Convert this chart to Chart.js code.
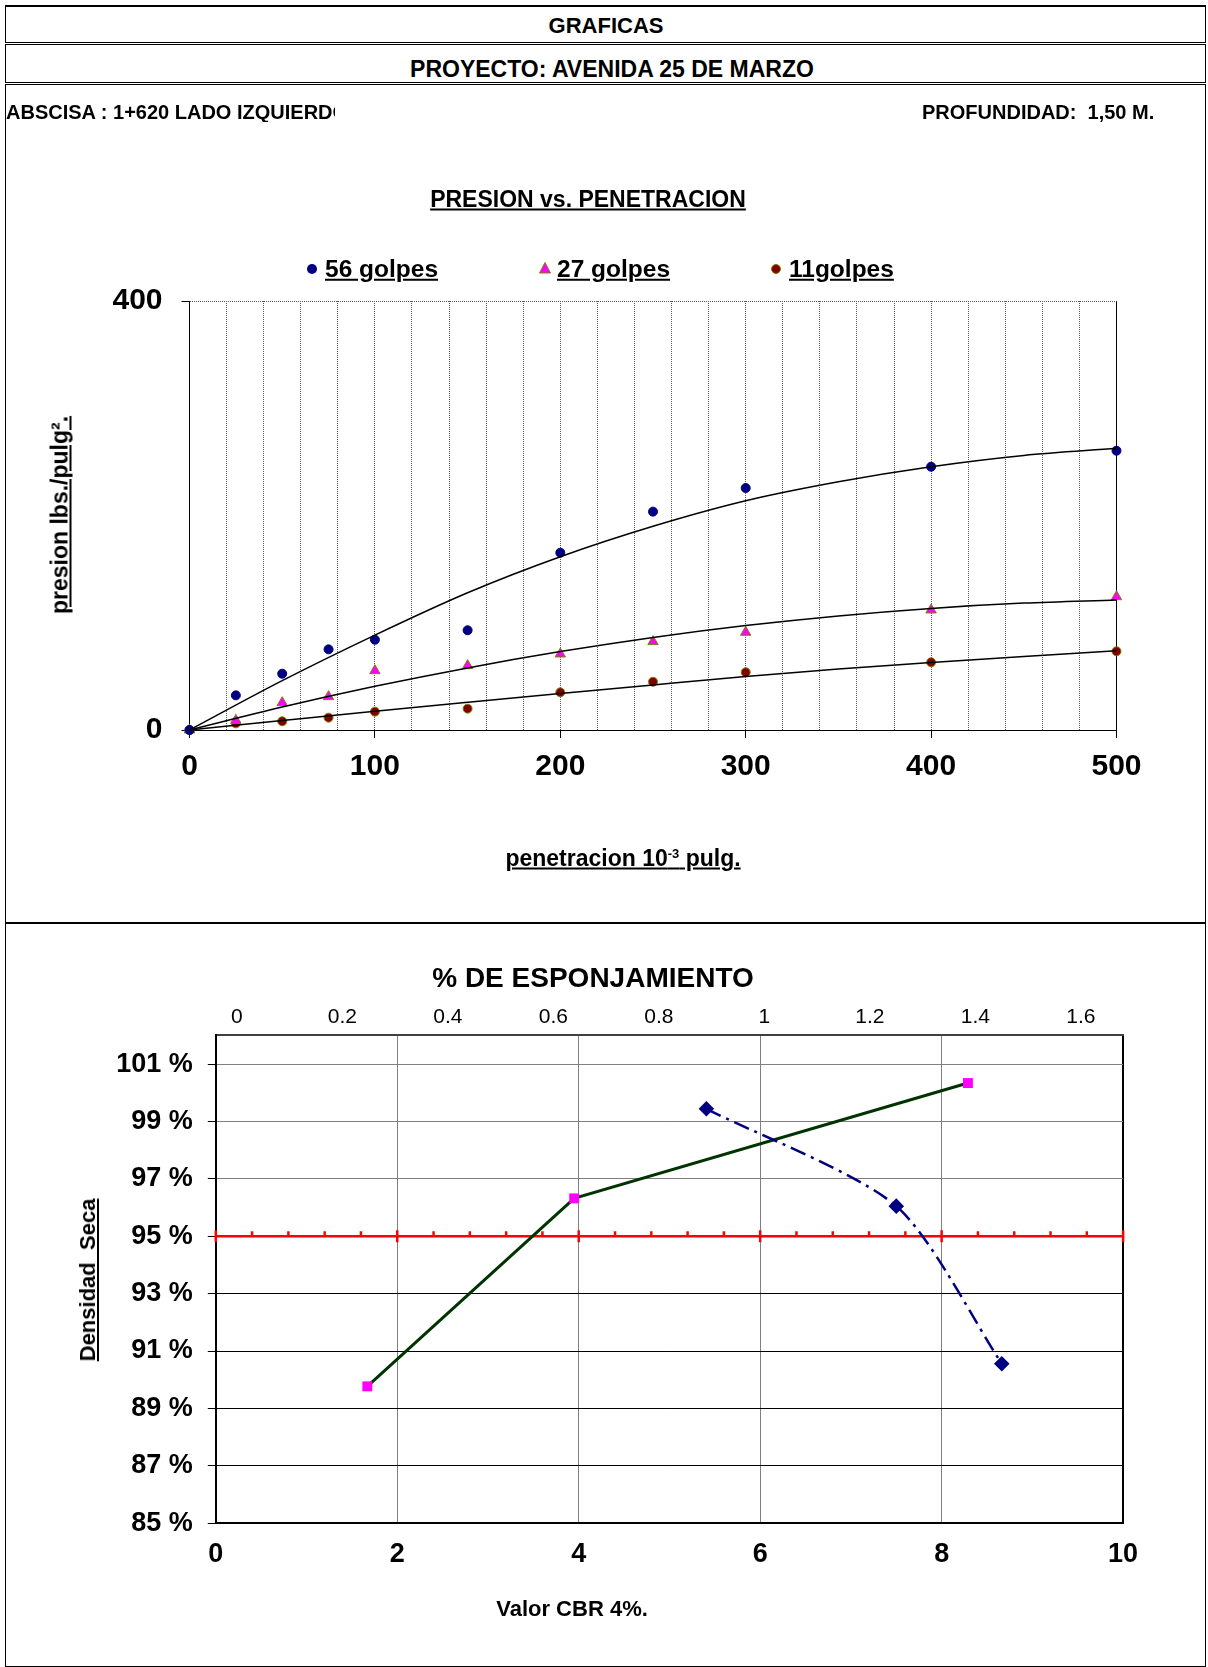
<!DOCTYPE html>
<html>
<head>
<meta charset="utf-8">
<title>Graficas CBR</title>
<script src="https://cdn.jsdelivr.net/npm/chart.js@4.4.0/dist/chart.umd.min.js"></script>
<style>
  body { margin: 0; background: #fff; font-family: "Liberation Sans", Arial, sans-serif; }
  #page { position: relative; width: 1208px; height: 1667px; overflow: hidden; background: #fff; }
  .box { position: absolute; border: 1px solid #000; box-sizing: border-box; }
  .txt { position: absolute; transform: translate(-50%, -50%); white-space: pre; font-weight: bold; line-height: 1; color: #000; }
  .izq { transform: translate(0, -50%); }
  .u { text-decoration: underline; }
  .rot { transform: translate(-50%, -50%) rotate(-90deg); }
  .mark { position: absolute; transform: translate(-50%, -50%); }
  canvas { position: absolute; left: 0; }
  sup { font-size: 13px; vertical-align: 8px; line-height: 0; }
</style>
</head>
<body>
<div id="page">
  <div class="box" style="left:5px;top:5px;width:1201px;height:38px;border-top-width:2px"></div>
  <div class="box" style="left:5px;top:44px;width:1201px;height:39px"></div>
  <div class="box" style="left:5px;top:84px;width:1201px;height:1583px"></div>
  <div style="position:absolute;left:5px;top:922px;width:1201px;height:2px;background:#000"></div>

  <canvas id="presion" width="1208" height="838" style="top:84px"></canvas>
  <canvas id="densidad" width="1208" height="741" style="top:924px"></canvas>

  <div class="txt" style="left:606px;top:26px;font-size:22px">GRAFICAS</div>
  <div class="txt" style="left:612px;top:69px;font-size:23px">PROYECTO: AVENIDA 25 DE MARZO</div>
  <div class="txt izq" style="left:6px;top:112px;font-size:20px;width:329px;overflow:hidden">ABSCISA : 1+620 LADO IZQUIERDO</div>
  <div class="txt izq" style="left:922px;top:112px;font-size:20px">PROFUNDIDAD:  1,50 M.</div>

  <div class="txt u" style="left:588px;top:199px;font-size:23px">PRESION vs. PENETRACION</div>

  <svg class="mark" style="left:312px;top:269px" width="12" height="12"><circle cx="6" cy="6" r="5" fill="#000080"/></svg>
  <div class="txt izq u" style="left:325px;top:269px;font-size:24.5px">56 golpes</div>
  <svg class="mark" style="left:545px;top:268px" width="14" height="14"><polygon points="7,1.5 12.5,12 1.5,12" fill="#ff00ff" stroke="#808000" stroke-width="1"/></svg>
  <div class="txt izq u" style="left:557px;top:269px;font-size:24.5px">27 golpes</div>
  <svg class="mark" style="left:776px;top:269px" width="12" height="12"><circle cx="6" cy="6" r="4.5" fill="#800000" stroke="#808000" stroke-width="1"/></svg>
  <div class="txt izq u" style="left:789px;top:269px;font-size:24.5px">11golpes</div>

  <div class="txt u rot" style="left:60px;top:515px;font-size:23px">presion lbs./pulg².</div>
  <div class="txt u" style="left:623px;top:858px;font-size:23px">penetracion 10<sup>-3</sup> pulg.</div>

  <div class="txt" style="left:593px;top:978px;font-size:28px">% DE ESPONJAMIENTO</div>
  <div class="txt u rot" style="left:88px;top:1280px;font-size:22px">Densidad  Seca</div>
  <div class="txt" style="left:572px;top:1609px;font-size:22px">Valor CBR 4%.</div>
</div>

<script>
// presion vs penetracion (lbs/pulg2 vs 10^-3 pulg)
const penetracion = [0, 25, 50, 75, 100, 150, 200, 250, 300, 400, 500];
const golpes56 = [0, 32.3, 52.5, 75.2, 84.2, 93.0, 165.3, 203.6, 225.6, 245.5, 260.4];
const golpes27 = [0, 9.0, 25.5, 31.1, 55.3, 60.0, 70.9, 82.4, 91.1, 111.9, 124.3];
const golpes11 = [0, 6.2, 8.1, 11.5, 17.1, 19.9, 35.1, 45.0, 53.8, 63.1, 73.4];

// lineas de tendencia
const tendenciaX = [0, 50, 100, 150, 200, 250, 300, 350, 400, 450, 500];
const tendencia56 = [0, 46, 88.5, 128, 161.6, 190, 213.8, 231.5, 245.5, 256, 262.6];
const tendencia27 = [0, 21.4, 40.7, 57.9, 73.1, 86.3, 97.4, 106.4, 113.4, 118.3, 121.2];
const tendencia11 = [0, 8.8, 17.5, 25.8, 34, 42, 49.8, 56.8, 63, 68.5, 74];

const etiquetasPenetracion = [0, 100, 200, 300, 400, 500];
const etiquetasPresion = [0, 400];

// densidad seca vs CBR y esponjamiento
const valorCbr = [1.67, 3.95, 8.29];
const densidadCbr = [89.77, 96.32, 100.34];
const esponjamiento = [0.89, 1.25, 1.45];
const densidadEsp = [99.44, 96.05, 90.56];
const densidadMinima = 95;
const marcasCbr = [0, 0.4, 0.8, 1.2, 1.6, 2, 2.4, 2.8, 3.2, 3.6, 4, 4.4, 4.8, 5.2, 5.6, 6, 6.4, 6.8, 7.2, 7.6, 8, 8.4, 8.8, 9.2, 9.6, 10];

const etiquetasCbr = [0, 2, 4, 6, 8, 10];
const etiquetasEsponj = [0, 0.2, 0.4, 0.6, 0.8, 1, 1.2, 1.4, 1.6];
const etiquetasDensidad = [85, 87, 89, 91, 93, 95, 97, 99, 101];

Chart.defaults.font.family = '"Liberation Sans", Arial, sans-serif';
Chart.defaults.color = '#000';

const toPoints = (xs, ys) => xs.map((x, i) => ({ x: x, y: ys[i] }));
const tickVal = (c) => (c.tick ? c.tick.value : null);

const tendencia = (data) => ({
  data: toPoints(tendenciaX, data),
  showLine: true,
  borderColor: '#000',
  borderWidth: 1.5,
  pointRadius: 0,
  cubicInterpolationMode: 'monotone',
  clip: false,
  order: 0,
});

new Chart(document.getElementById('presion'), {
  type: 'scatter',
  data: {
    datasets: [
      tendencia(tendencia56),
      tendencia(tendencia27),
      tendencia(tendencia11),
      {
        label: '56 golpes',
        data: toPoints(penetracion, golpes56),
        pointStyle: 'circle',
        pointRadius: 4.5,
        backgroundColor: '#000080',
        borderColor: '#000080',
        clip: false,
        order: 1,
      },
      {
        label: '27 golpes',
        data: toPoints(penetracion, golpes27),
        pointStyle: 'triangle',
        pointRadius: 6,
        backgroundColor: '#ff00ff',
        borderColor: '#808000',
        borderWidth: 1,
        clip: false,
        order: 1,
      },
      {
        label: '11golpes',
        data: toPoints(penetracion, golpes11),
        pointStyle: 'circle',
        pointRadius: 4.5,
        backgroundColor: '#800000',
        borderColor: '#808000',
        borderWidth: 1,
        clip: false,
        order: 1,
      },
    ],
  },
  options: {
    responsive: false,
    animation: false,
    layout: { padding: { top: 217, right: 91.5, bottom: 132, left: 0 } },
    plugins: { legend: { display: false }, tooltip: { enabled: false } },
    scales: {
      x: {
        type: 'linear',
        min: 0,
        max: 500,
        afterFit: (s) => { s.height = 60 },
        ticks: {
          stepSize: 20,
          autoSkip: false,
          maxRotation: 0,
          padding: 11,
          font: { size: 30, weight: 'bold' },
          callback: (v) => (etiquetasPenetracion.includes(v) ? v : ''),
        },
        grid: {
          color: (c) => (tickVal(c) === 500 ? '#000' : '#5a5a5a'),
          tickLength: 8,
          tickColor: (c) => (tickVal(c) % 100 === 0 ? '#000' : 'rgba(0,0,0,0)'),
        },
        border: { color: '#000', width: 1, dash: (c) => (tickVal(c) === 500 ? [] : [1, 1]) },
      },
      y: {
        min: 0,
        max: 400,
        afterBuildTicks: (s) => { s.ticks = etiquetasPresion.map((v) => ({ value: v })) },
        afterFit: (s) => { s.width = 189.5 },
        ticks: { padding: 19, font: { size: 30, weight: 'bold' } },
        grid: {
          color: (c) => (tickVal(c) === 400 ? '#5a5a5a' : 'rgba(0,0,0,0)'),
          tickLength: 8,
          tickColor: '#000',
        },
        border: { color: '#000', width: 1, dash: [1, 1] },
      },
    },
  },
});

const esPar = (c) => {
  const x = c.raw ? c.raw.x : 1;
  return Math.abs(x / 2 - Math.round(x / 2)) < 1e-9;
};

new Chart(document.getElementById('densidad'), {
  type: 'scatter',
  data: {
    datasets: [
      {
        label: 'CBR',
        data: toPoints(valorCbr, densidadCbr),
        xAxisID: 'x',
        showLine: true,
        borderColor: '#003300',
        borderWidth: 3,
        pointStyle: 'rect',
        pointRadius: 7,
        pointBackgroundColor: '#ff00ff',
        pointBorderColor: '#ff00ff',
        pointBorderWidth: 0,
        clip: false,
        order: 2,
      },
      {
        label: 'Esponjamiento',
        data: toPoints(esponjamiento, densidadEsp),
        xAxisID: 'x2',
        showLine: true,
        borderColor: '#000080',
        borderWidth: 2.5,
        borderDash: [16, 6, 3, 6],
        tension: 0.25,
        pointStyle: 'rectRot',
        pointRadius: 6,
        pointBackgroundColor: '#000080',
        pointBorderColor: '#000080',
        clip: false,
        order: 1,
      },
      {
        label: '95 %',
        data: marcasCbr.map((x) => ({ x: x, y: densidadMinima })),
        xAxisID: 'x',
        showLine: true,
        borderColor: '#ff0000',
        borderWidth: 2.5,
        pointStyle: (c) => (esPar(c) ? 'line' : 'dash'),
        pointRotation: (c) => (esPar(c) ? 90 : -90),
        pointRadius: (c) => (esPar(c) ? 6 : 5),
        pointBorderColor: '#ff0000',
        pointBorderWidth: 2.5,
        clip: false,
        order: 3,
      },
    ],
  },
  options: {
    responsive: false,
    animation: false,
    layout: { padding: { top: 71.4, right: 84.9, bottom: 81.8, left: 0 } },
    plugins: { legend: { display: false }, tooltip: { enabled: false } },
    scales: {
      x: {
        type: 'linear',
        position: 'bottom',
        min: 0,
        max: 10,
        afterBuildTicks: (s) => { s.ticks = etiquetasCbr.map((v) => ({ value: v })) },
        afterFit: (s) => { s.height = 60 },
        ticks: { padding: 15, maxRotation: 0, font: { size: 27, weight: 'bold' } },
        grid: {
          color: (c) => (tickVal(c) === 10 ? '#000' : '#808080'),
          lineWidth: (c) => (tickVal(c) === 10 ? 2 : 1),
          drawTicks: false,
        },
        border: { color: '#000', width: 2 },
      },
      x2: {
        type: 'linear',
        position: 'top',
        min: -0.04,
        max: 1.68,
        afterBuildTicks: (s) => { s.ticks = etiquetasEsponj.map((v) => ({ value: v })) },
        afterFit: (s) => { s.height = 40 },
        ticks: { padding: 6, maxRotation: 0, font: { size: 21 }, callback: (v) => String(v) },
        grid: { display: false, drawTicks: false },
        border: { color: '#404040', width: 2 },
      },
      y: {
        min: 85,
        max: 102,
        afterBuildTicks: (s) => { s.ticks = etiquetasDensidad.map((v) => ({ value: v })) },
        afterFit: (s) => { s.width = 215.8 },
        ticks: { padding: 15, font: { size: 27, weight: 'bold' }, callback: (v) => v + ' %' },
        grid: {
          color: (c) => (tickVal(c) >= 97 ? '#808080' : '#000'),
          tickLength: 8,
          tickColor: '#000',
        },
        border: { color: '#000', width: 2 },
      },
    },
  },
});
</script>
</body>
</html>
